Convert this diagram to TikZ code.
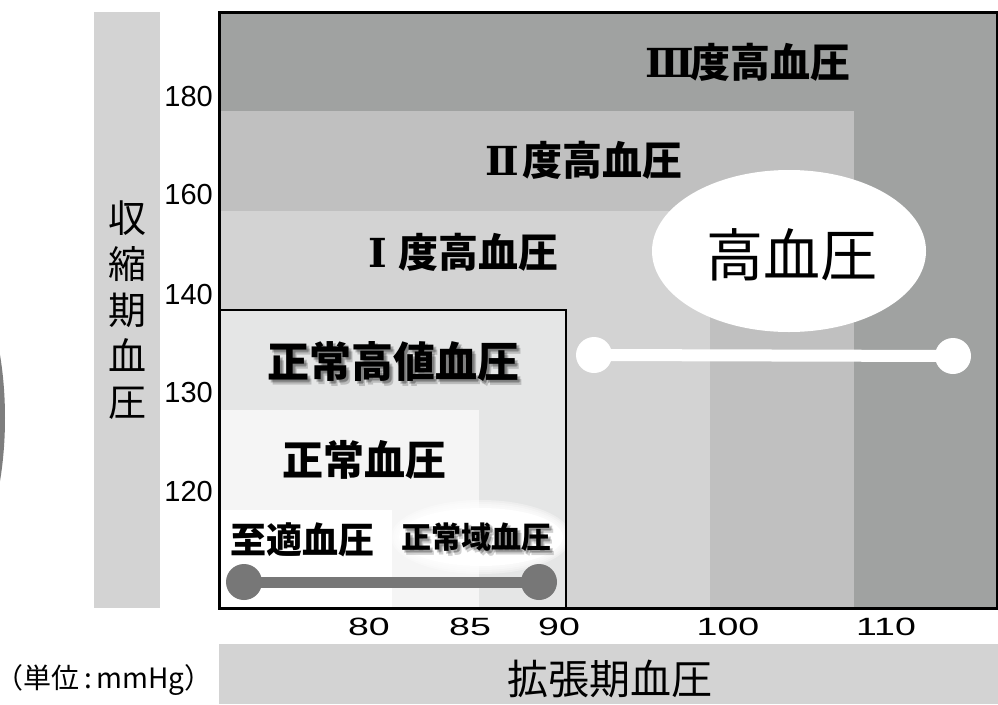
\documentclass[tikz,border=0pt]{standalone}
\usepackage{fontspec}
\newfontfamily\jp{Noto Sans CJK JP}
\newfontfamily\numf{Liberation Sans}
\newfontfamily\romf{DejaVu Serif}
\usetikzlibrary{shapes.geometric}
\definecolor{cIII}{HTML}{A0A2A1}
\definecolor{cII}{HTML}{C0C0C0}
\definecolor{cI}{HTML}{D3D3D3}
\definecolor{cHN}{HTML}{E5E6E6}
\definecolor{cN}{HTML}{F5F5F5}
\definecolor{cbar}{HTML}{777777}
\definecolor{csliver}{HTML}{7E7E7E}
\newcommand\rnum[1]{\makebox[1em][c]{\romf\bfseries #1}}
\tikzset{
  lbl/.style={inner sep=0pt, font=\jp\bfseries\fontsize{#1}{#1}\selectfont},
  lbl/.default=40,
  ytick/.style={anchor=east, inner sep=0pt, font=\numf\fontsize{29}{29}\selectfont},
  xtick/.style={inner sep=0pt, font=\numf\fontsize{25}{25}\selectfont},
  dotg/.style={circle, fill=cbar, minimum size=36pt, inner sep=0pt},
  dotw/.style={circle, fill=white, minimum size=36pt, inner sep=0pt},
}
\begin{document}
\begin{tikzpicture}[x=1pt,y=-1pt]
\useasboundingbox (0,0) rectangle (998,704);
\fill[white] (0,0) rectangle (998,704);
% left sliver
\begin{scope}
  \clip (0,0) rectangle (998,704);
  \fill[csliver] (-60,418) ellipse [x radius=65, y radius=164];
\end{scope}
% axis label bars
\fill[cI] (94,12) rectangle (160,608);
\fill[cI] (219,644) rectangle (998,704);
% regions
\fill[cIII] (219,12) rectangle (997,608);
\fill[cII] (219,111) rectangle (854,608);
\fill[cI] (219,211) rectangle (710,608);
\fill[cHN] (219,310) rectangle (566,608);
\fill[cN] (219,410) rectangle (479,608);
\fill[white] (219,510) rectangle (392,608);
% normal-range glow ellipse
\begin{scope}
  \clip (219,310) rectangle (566,608);
  \foreach \r in {8,6,4,2}
    \fill[white, opacity=0.35] (481,537) ellipse [x radius=82+\r, y radius=29+\r];
  \fill[white] (481,537) ellipse [x radius=82, y radius=29];
\end{scope}
% borders
\draw[line width=2.5pt] (219,310) rectangle (566,608);
\draw[line width=3pt] (219,12) rectangle (997,608);
% gray bar
\node[dotg] (g1) at (244,582) {};
\node[dotg] (g2) at (539,582) {};
\draw[cbar, line width=11pt] (g1.center) -- (g2.center);
% high BP ellipse
\node[ellipse, fill=white, minimum width=274pt, minimum height=162pt, inner sep=0pt] (hbp) at (789,251) {};
\node[inner sep=0pt, font=\jp\fontsize{57}{57}\selectfont] (hbpt) at (792,255) {高血圧};
% white bar
\node[dotw] (w1) at (594,355) {};
\node[dotw] (w2) at (953,356) {};
\draw[white, line width=12pt] (w1.center) -- (w2.center);
% category labels
\node[lbl] (l3) at (750,62) {\rnum{Ⅲ}度高血圧};
\node[lbl] (l2) at (582,160) {\rnum{Ⅱ}度高血圧};
\node[lbl] (l1) at (458,252) {\rnum{Ⅰ}度高血圧};
\foreach \dx/\dy in {2/3,4/5,3/2}
  \node[lbl=42, opacity=0.18] at (393+\dx,362+\dy) {正常高値血圧};
\node[lbl=42] (lhn) at (393,362) {正常高値血圧};
\node[lbl=41] (ln) at (364,460) {正常血圧};
\node[lbl=36] (lo) at (302,540) {至適血圧};
\foreach \dx/\dy in {2/3,4/5,3/2}
  \node[lbl=30, opacity=0.18] at (476+\dx,537+\dy) {正常域血圧};
\node[lbl=30] (lnr) at (476,537) {正常域血圧};
% y ticks
\node[ytick] (y180) at (213,97) {180};
\node[ytick] (y160) at (213,195) {160};
\node[ytick] (y140) at (213,295) {140};
\node[ytick] (y130) at (213,393) {130};
\node[ytick] (y120) at (213,492) {120};
% x ticks
\node[xtick] (x80) at (369,627) {\scalebox{1.5}[1]{80}};
\node[xtick] (x85) at (470,627) {\scalebox{1.5}[1]{85}};
\node[xtick] (x90) at (559,627) {\scalebox{1.5}[1]{90}};
\node[xtick] (x100) at (728,627) {\scalebox{1.5}[1]{100}};
\node[xtick] (x110) at (886,627) {\scalebox{1.5}[1]{110}};
% axis titles
\node[inner sep=0pt, align=center, font=\jp\fontsize{38}{46}\selectfont] (ylab) at (127,310) {収\\縮\\期\\血\\圧};
\node[inner sep=0pt, font=\jp\fontsize{41}{41}\selectfont] (xlab) at (610,679) {拡張期血圧};
\node[inner sep=0pt, font=\jp\fontsize{28}{28}\selectfont] (unit) at (104,680) {（単位\,:\,mmHg）};
\end{tikzpicture}
\end{document}
